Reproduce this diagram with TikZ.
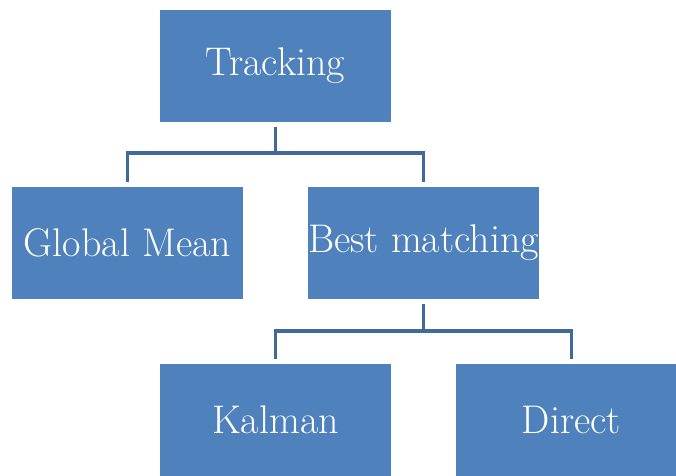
\documentclass[tikz,border=0pt]{standalone}
\definecolor{boxfill}{HTML}{4F81BD}
\definecolor{linecol}{HTML}{41699A}
\begin{document}
\begin{tikzpicture}[x=1pt,y=-1pt,
  blk/.style={fill=boxfill,draw=none,minimum width=231pt,minimum height=112pt,inner sep=0pt,text=white,font=\fontsize{40}{46}\selectfont},
  conn/.style={draw=linecol,line width=3.5pt}]
\useasboundingbox (0,0) rectangle (676,475);
\node[blk] (track) at (275.5,66) {Tracking};
\node[blk] (glob) at (127.5,243) {Global Mean};
\node[blk] (best) at (423.5,243) {Best matching};
\node[blk] (kal) at (275.5,420) {Kalman};
\begin{scope}
\clip (0,0) rectangle (676,475);
\node[blk] (dir) at (571.5,420) {};
\end{scope}
\node[text=white,font=\fontsize{40}{46}\selectfont] (dirt) at (571.5,420) {Direct};
\draw[conn] ([yshift=-5pt]track.south) -- (track.south |- 0,153) coordinate (m1);
\draw[conn] ([yshift=5pt]glob.north) |- (m1) -| ([yshift=5pt]best.north);
\draw[conn] ([yshift=-5pt]best.south) -- (best.south |- 0,331) coordinate (m2);
\draw[conn] ([yshift=5pt]kal.north) |- (m2) -| ([yshift=5pt]dir.north);
\end{tikzpicture}
\end{document}
